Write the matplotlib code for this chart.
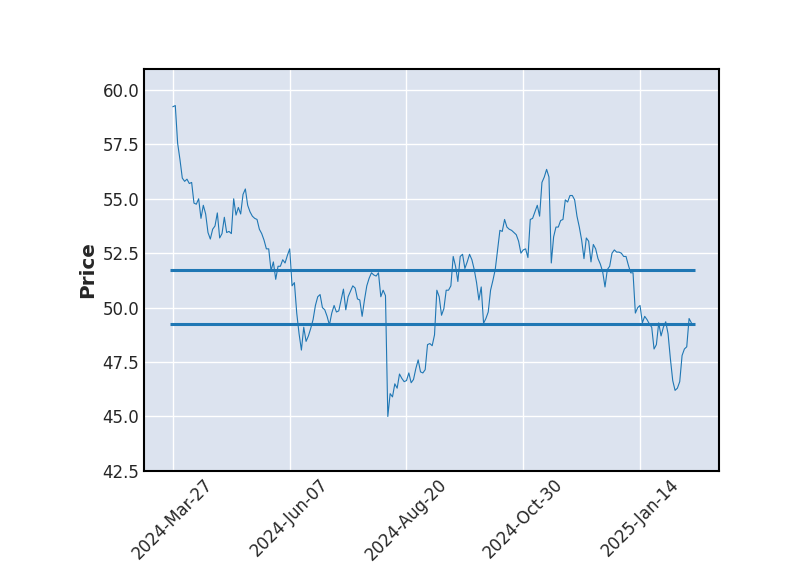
import numpy as np
import matplotlib
matplotlib.use("Agg")
import matplotlib.pyplot as plt

# daily closing prices (trading days from 2024-03-27)
prices = [
    59.23, 59.28, 57.55, 56.80, 55.95, 55.80, 55.90, 55.70, 55.75, 54.80,
    54.75, 55.00, 54.10, 54.70, 54.30, 53.45, 53.15, 53.60, 53.75, 54.35,
    53.20, 53.40, 54.15, 53.45, 53.50, 53.40, 55.00, 54.25, 54.60, 54.30,
    55.20, 55.45, 54.70, 54.40, 54.20, 54.10, 54.05, 53.60, 53.40, 53.10,
    52.70, 52.70, 51.70, 52.10, 51.30, 51.90, 51.90, 52.20, 52.05, 52.40,
    52.70, 51.00, 51.15, 49.75, 48.80, 48.05, 49.10, 48.45, 48.70, 49.05,
    49.45, 50.10, 50.50, 50.60, 50.00, 49.90, 49.60, 49.20, 49.75, 50.10,
    49.80, 49.85, 50.35, 50.85, 49.90, 50.50, 50.75, 51.00, 50.90, 50.40,
    50.35, 49.60, 50.35, 51.00, 51.35, 51.60, 51.50, 51.45, 51.60, 50.50,
    50.80, 50.55, 45.00, 46.05, 45.90, 46.50, 46.30, 46.95, 46.75, 46.60,
    46.65, 47.00, 46.55, 46.70, 47.20, 47.60, 47.05, 47.00, 47.15, 48.30,
    48.35, 48.25, 48.75, 50.80, 50.50, 49.65, 49.95, 50.80, 50.80, 51.00,
    52.35, 51.90, 51.20, 52.35, 52.45, 51.80, 52.10, 52.45, 52.20, 51.75,
    51.15, 50.35, 50.95, 49.28, 49.50, 49.80, 50.80, 51.25, 51.75, 52.65,
    53.55, 53.50, 54.05, 53.70, 53.60, 53.55, 53.45, 53.35, 53.05, 52.50,
    52.65, 52.70, 52.30, 54.05, 54.10, 54.40, 54.70, 54.20, 55.75, 56.00,
    56.35, 56.00, 52.05, 53.25, 53.70, 53.70, 54.00, 54.05, 54.95, 54.85,
    55.15, 55.15, 54.95, 54.20, 53.70, 53.10, 52.25, 53.20, 53.05, 52.10,
    52.90, 52.70, 52.25, 52.00, 51.65, 50.95, 51.75, 51.90, 52.50, 52.65,
    52.55, 52.55, 52.50, 52.35, 52.35, 51.95, 51.60, 51.60, 49.75, 50.00,
    50.10, 49.30, 49.60, 49.45, 49.25, 49.10, 48.10, 48.30, 49.30, 48.70,
    49.10, 49.35, 48.80, 47.65, 46.65, 46.20, 46.30, 46.60, 47.80, 48.10,
    48.20, 49.50, 49.30,
]
hline_levels = [51.72, 49.25]
tick_labels = ['2024-Mar-27', '2024-Jun-07', '2024-Aug-20', '2024-Oct-30', '2025-Jan-14']

plt.rcParams['font.size'] = 12
plt.rcParams['font.weight'] = 'medium'

fig = plt.figure(figsize=(8, 5.75), dpi=100)
ax = fig.add_axes([0.18, 0.181, 0.719, 0.699])
ax.set_facecolor('#DCE3EF')
ax.grid(True, color='white', linewidth=1.0)
ax.set_axisbelow(True)
for sp in ax.spines.values():
    sp.set_color('black')
    sp.set_linewidth(1.5)

x = np.arange(len(prices))
ax.plot(x, prices, color='#1f77b4', linewidth=0.8)
ax.hlines(hline_levels, -1.3, len(prices) + 0.6, color='#1f77b4', linewidth=2.2)

ax.set_xticks(np.arange(0, len(prices), 50))
ax.set_xticklabels(tick_labels, rotation=45)
ax.set_yticks(np.arange(42.5, 60.01, 2.5))
ax.tick_params(length=0, colors='.15', labelsize=12)
ax.set_xlim(-12.4, 233.9)
ax.set_ylim(42.5, 60.96)
ax.set_ylabel('Price', fontsize=14.4, fontweight='semibold', color='.15')

fig.savefig('out.png', dpi=100)
